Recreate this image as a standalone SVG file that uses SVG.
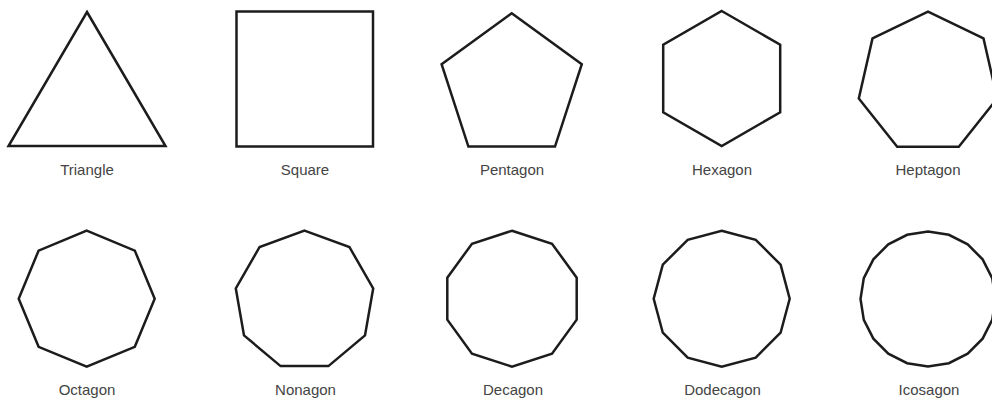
<svg xmlns="http://www.w3.org/2000/svg" width="992" height="401" viewBox="0 0 992 401">
<style>
.s{fill:#fff;stroke:#1c1c1c;stroke-width:2.5;stroke-linejoin:miter}
.t{font-family:"Liberation Sans",Arial,sans-serif;font-size:15px;fill:#444;text-anchor:middle}
</style>
<rect width="992" height="401" fill="#fff"/>
<g id="triangle"><polygon class="s" points="87,12 165.5,146 8.5,146"/><text class="t" x="87" y="175">Triangle</text></g>
<g id="square"><rect class="s" x="236.5" y="11.5" width="136.5" height="135"/><text class="t" x="305" y="175">Square</text></g>
<g id="pentagon"><polygon class="s" points="511.7,13.3 581.8,64.2 555,146.6 468.4,146.6 441.6,64.2"/><text class="t" x="512" y="175">Pentagon</text></g>
<g id="hexagon"><polygon class="s" points="721.7,11 780.2,44.75 780.2,112.25 721.7,146 663.2,112.25 663.2,44.75"/><text class="t" x="722" y="175">Hexagon</text></g>
<g id="heptagon"><polygon class="s" points="928,11.7 983.5,38.4 997.2,98.5 958.8,146.7 897.2,146.7 858.8,98.5 872.5,38.4"/><text class="t" x="928" y="175">Heptagon</text></g>
<g id="octagon"><polygon class="s" points="86.7,230.7 134.8,250.6 154.7,298.7 134.8,346.8 86.7,366.7 38.6,346.8 18.7,298.7 38.6,250.6"/><text class="t" x="87" y="395">Octagon</text></g>
<g id="nonagon"><polygon class="s" points="304.5,230.7 349.4,247 373.2,288.4 365,335.4 328.4,366.1 280.6,366.1 244,335.4 235.8,288.4 259.6,247"/><text class="t" x="305.5" y="395">Nonagon</text></g>
<g id="decagon"><polygon class="s" points="512,230.7 552,243.7 576.7,277.7 576.7,319.7 552,353.7 512,366.7 472,353.7 447.3,319.7 447.3,277.7 472,243.7"/><text class="t" x="513" y="395">Decagon</text></g>
<g id="dodecagon"><polygon class="s" points="721.7,230.7 755.7,239.8 780.6,264.7 789.7,298.7 780.6,332.7 755.7,357.6 721.7,366.7 687.7,357.6 662.8,332.7 653.7,298.7 662.8,264.7 687.7,239.8"/><text class="t" x="722.5" y="395">Dodecagon</text></g>
<g id="icosagon"><polygon class="s" points="928,231.5 948.86,234.8 967.68,244.39 982.61,259.32 992.2,278.14 995.5,299 992.2,319.86 982.61,338.68 967.68,353.61 948.86,363.2 928,366.5 907.14,363.2 888.32,353.61 873.39,338.68 863.8,319.86 860.5,299 863.8,278.14 873.39,259.32 888.32,244.39 907.14,234.8"/><text class="t" x="929" y="395">Icosagon</text></g>
<g id="connectors"/>
</svg>
